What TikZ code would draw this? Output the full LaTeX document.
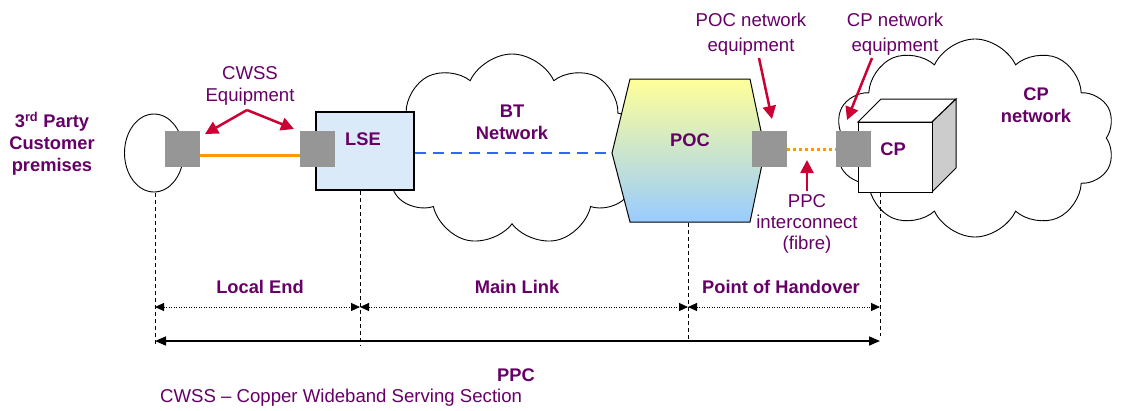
\documentclass[tikz,border=0pt]{standalone}
\usepackage{fontspec}
\setmainfont{Liberation Sans}
\usetikzlibrary{shapes.symbols,shapes.geometric,arrows.meta}
\definecolor{purp}{RGB}{102,0,102}
\definecolor{crim}{RGB}{204,0,51}
\definecolor{orng}{RGB}{255,153,0}
\definecolor{bluel}{RGB}{51,102,255}
\definecolor{grayb}{RGB}{150,150,150}
\definecolor{lsefill}{RGB}{218,234,248}
\definecolor{pocyel}{RGB}{255,255,153}
\definecolor{pocblu}{RGB}{153,204,255}
\definecolor{cubeside}{RGB}{204,204,204}
\begin{document}
\begin{tikzpicture}[x=1pt,y=-1pt,
  lbl/.style={text=purp,font=\fontsize{18.6}{22}\selectfont,align=center,inner sep=0},
  blbl/.style={text=purp,font=\fontsize{18.3}{22}\selectfont\bfseries,align=center,inner sep=0},
  eqbox/.style={fill=grayb,draw=none,minimum width=35pt,minimum height=36pt,inner sep=0},
  callout/.style={crim,line width=2.5pt,-{Triangle[length=13pt,width=13pt]}},
  vdash/.style={line width=0.7pt,dash pattern=on 4pt off 3pt},
  dimdot/.style={line width=0.9pt,dash pattern=on 1pt off 1.5pt,{Triangle[length=9pt,width=8pt]}-{Triangle[length=9pt,width=8pt]}},
  dimsolid/.style={line width=1.6pt,{Triangle[length=11pt,width=9pt]}-{Triangle[length=11pt,width=9pt]}},
  cloudy/.style={cloud,cloud puffs=9,cloud puff arc=130,cloud ignores aspect,draw,line width=0.9pt,fill=white,inner sep=0}]
\useasboundingbox (0,0) rectangle (1121,410);

% clouds
\node[cloudy,minimum width=262pt,minimum height=192pt] (bt) at (512,150) {};
\node[cloudy,cloud puffs=10,minimum width=280pt,minimum height=198pt] (cpc) at (975,138) {};

% customer premises
\node[ellipse,draw,line width=0.9pt,minimum width=59pt,minimum height=78pt,inner sep=0] (cust) at (154,153) {};
\node[blbl] (custtxt) at (52,144) {3\textsuperscript{rd} Party\\Customer\\premises};

% LSE
\node[draw,fill=lsefill,line width=1.2pt,minimum width=98pt,minimum height=78pt,inner sep=0] (lse) at (365,151) {};
\node[blbl] (lsetxt) at (363,139) {LSE};

% CWSS equipment
\node[eqbox] (gL) at (182.5,148.5) {};
\node[eqbox] (gR) at (317.5,148.5) {};
\draw[orng,line width=3pt] ([yshift=-6.5pt]gL.east) -- ([yshift=-6.5pt]gR.west);
\node[lbl] (cwss) at (250,86) {CWSS\\Equipment};
\coordinate (cw0) at (247,110);
\coordinate (cwA) at (205,134);
\coordinate (cwB) at (294,129);
\draw[callout] (cw0) -- (cwA);
\draw[callout] (cw0) -- (cwB);

% BT network
\node[blbl] (bttxt) at (512,122) {BT\\Network};

% POC
\coordinate (pocL) at (612,153);
\draw[line width=1pt,top color=pocyel,bottom color=pocblu] (pocL) -- (630,79) -- (750,79) -- (765,150) -- (750,222) -- (630,222) -- cycle;
\node[blbl] (poctxt) at (690,140) {POC};
\draw[bluel,line width=2.5pt,dash pattern=on 11pt off 7pt] (lse.east |- pocL) -- (pocL);

% CP cube
\draw[line width=1pt,fill=white] (858,122) -- (881,99) -- (956,99) -- (932,122) -- cycle;
\draw[line width=1pt,fill=cubeside] (932,122) -- (956,99) -- (956,168) -- (932,192) -- cycle;
\node[draw,fill=white,line width=1pt,minimum width=74pt,minimum height=70pt,inner sep=0] (cube) at (895,157) {};
\node[blbl] (cptxt) at (893,149) {CP};

% handover equipment
\node[eqbox] (gP) at (769,149) {};
\node[eqbox] (gC) at (853.5,149) {};
\draw[orng,line width=3pt,dash pattern=on 3pt off 3pt] (gP.east) -- (gC.west);

\node[lbl,font=\fontsize{18.6}{25}\selectfont] (poceq) at (751,34) {POC network\\equipment};
\node[lbl,font=\fontsize{18.6}{25}\selectfont] (cpeq) at (895,34) {CP network\\equipment};
\coordinate (pe0) at (759,58);
\coordinate (pe1) at (772,119);
\coordinate (ce0) at (872,58);
\coordinate (ce1) at (847,120);
\draw[callout] (pe0) -- (pe1);
\draw[callout] (ce0) -- (ce1);

\node[lbl,font=\fontsize{18.6}{21}\selectfont] (ppctxt) at (807,224) {PPC\\interconnect\\(fibre)};
\coordinate (pp1) at (807,160);
\draw[callout] (807,191) -- (pp1);

\node[blbl] (cpnet) at (1036,105) {CP\\network};

% vertical dashed guides
\coordinate (v1t) at (155,193); \coordinate (v1b) at (155,346);
\coordinate (v2t) at (360,191); \coordinate (v2b) at (360,346);
\coordinate (v3t) at (688,223); \coordinate (v3b) at (688,341);
\coordinate (v4t) at (880,193); \coordinate (v4b) at (880,336);
\draw[vdash] (v1t) -- (v1b);
\draw[vdash] (v2t) -- (v2b);
\draw[vdash] (v3t) -- (v3b);
\draw[vdash] (v4t) -- (v4b);

% dimension arrows
\coordinate (a1) at (155,307); \coordinate (a2) at (360,307);
\coordinate (a3) at (688,307); \coordinate (a4) at (880,307);
\draw[dimdot] (a1) -- (a2);
\draw[dimdot] (a2) -- (a3);
\draw[dimdot] (a3) -- (a4);
\coordinate (b1) at (155,341); \coordinate (b2) at (880,341);
\draw[dimsolid] (b1) -- (b2);

\node[blbl] (le) at (260,287) {Local End};
\node[blbl] (ml) at (517,287) {Main Link};
\node[blbl] (poh) at (781,287) {Point of Handover};
\node[blbl] (ppc) at (516,375) {PPC};
\node[lbl,anchor=west] (note) at (160,398) {CWSS -- Copper Wideband Serving Section};
\end{tikzpicture}
\end{document}
